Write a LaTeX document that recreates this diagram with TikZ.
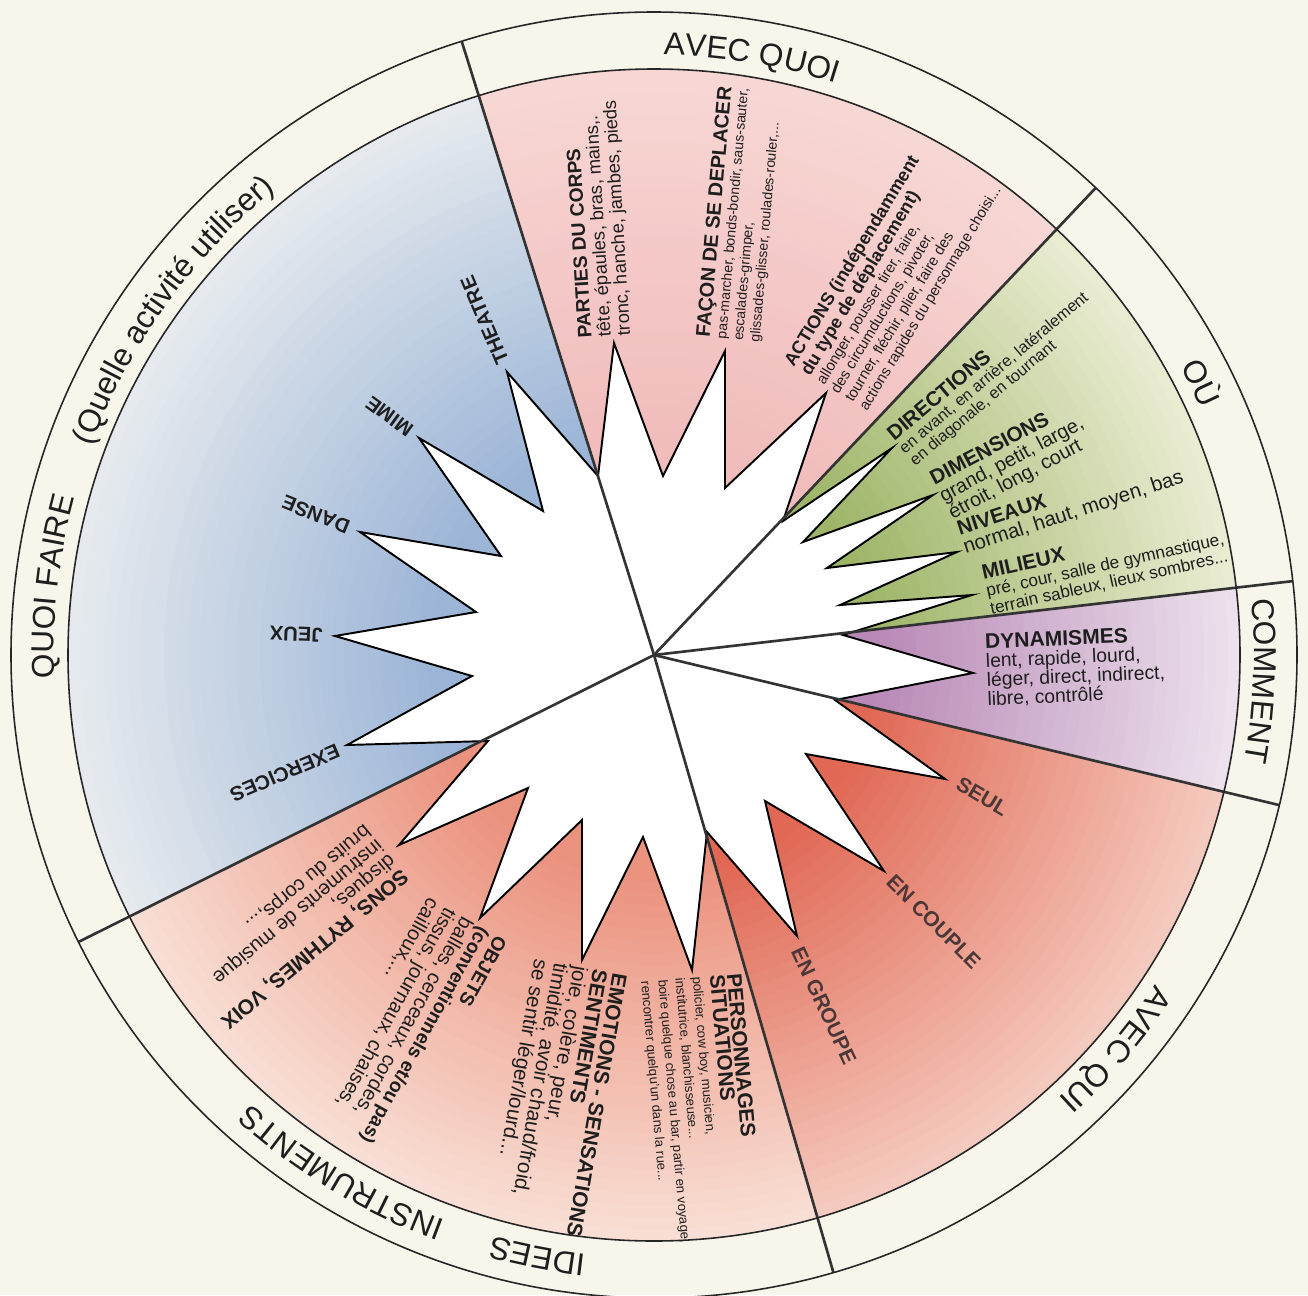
\documentclass[tikz,border=0pt]{standalone}
\usepackage{fontspec}
\setmainfont{Liberation Sans}
\usetikzlibrary{decorations.text}

\definecolor{bgcream}{RGB}{248,245,235}
\definecolor{ink}{RGB}{30,30,30}
\definecolor{tagink}{RGB}{75,55,55}
\definecolor{quoiIn}{RGB}{156,181,215}
\definecolor{quoiOut}{RGB}{230,234,238}
\definecolor{avecIn}{RGB}{241,188,188}
\definecolor{avecOut}{RGB}{247,215,212}
\definecolor{ouIn}{RGB}{158,181,104}
\definecolor{ouOut}{RGB}{234,236,210}
\definecolor{commIn}{RGB}{184,136,182}
\definecolor{commOut}{RGB}{236,225,236}
\definecolor{quiIn}{RGB}{224,104,84}
\definecolor{quiOut}{RGB}{245,202,190}
\definecolor{ideeIn}{RGB}{235,146,126}
\definecolor{ideeOut}{RGB}{248,222,212}

\newcommand{\hd}[2][12]{{\fontsize{#1}{#1}\selectfont\bfseries #2}}
\newcommand{\ringfont}{\fontsize{18}{18}\selectfont}

\begin{document}
\begin{tikzpicture}[
        x=0.02cm, y=0.02cm,
        divider/.style={line width=1.5pt, draw=black!80},
        rim/.style={line width=0.9pt, draw=black!85},
        lbl/.style={font=\fontsize{11.5}{12}\selectfont\bfseries, text=ink, anchor=west, inner sep=0pt},
        tag/.style={font=\fontsize{12}{12}\selectfont\bfseries, text=tagink, anchor=west, inner sep=0pt},
        blk/.style={text=ink, anchor=west, align=left, inner sep=0pt},
        ringtext/.style={decorate, decoration={text along path, text align=center, text color=ink}}
        ]
    % Page and background
    \useasboundingbox (0,0) rectangle (1308,-1295);
    \fill[bgcream] (0,0) rectangle (1308,-1295);

    % Centre and ends of the dividing rays
    \coordinate (C) at (654,-655);
    \coordinate (dQuoi) at ([shift={(107.4:643)}]C);
    \coordinate (dAvec) at ([shift={(46.6:643)}]C);
    \coordinate (dOu) at ([shift={(6.6:643)}]C);
    \coordinate (dComm) at ([shift={(-13.5:643)}]C);
    \coordinate (dQui) at ([shift={(-73.8:643)}]C);
    \coordinate (dIdee) at ([shift={(206.5:643)}]C);

    % Coloured sectors, fading outwards
    \foreach \a/\m/\b/\cin/\cout in {107.4/157/206.5/quoiIn/quoiOut, 46.6/77/107.4/avecIn/avecOut,
            6.6/26.6/46.6/ouIn/ouOut, -13.5/-3.5/6.6/commIn/commOut,
            -73.8/-43.6/-13.5/quiIn/quiOut, 206.5/246.3/286.2/ideeIn/ideeOut}{
        \begin{scope}
            \clip (C) -- ([shift={(\a:1200)}]C) -- ([shift={(\m:1200)}]C) -- ([shift={(\b:1200)}]C) -- cycle;
            \foreach \i in {0,...,30}{
                \pgfmathsetmacro{\p}{\i*100/30}
                \pgfmathsetmacro{\r}{586-\i*12}
                \fill[\cin!\p!\cout] (C) circle (\r);
            }
        \end{scope}
    }

    % Star
    \filldraw[fill=white, draw=black, line width=1.1pt]
        (598,-476) -- (507,-372) -- (543,-511) -- (419,-438) -- (501,-556) -- (360,-532)
        -- (476,-612) -- (335,-636) -- (472,-676) -- (347,-745) -- (488,-741) -- (399,-845)
        -- (528,-788) -- (480,-918) -- (582,-820) -- (582,-960) -- (643,-837) -- (692,-970)
        -- (707,-832) -- (797,-936) -- (765,-801) -- (884,-871) -- (806,-754) -- (945,-779)
        -- (835,-700) -- (973,-673) -- (843,-635) -- (972,-595) -- (840,-605) -- (957,-552)
        -- (827,-568) -- (933,-495) -- (803,-542) -- (892,-448) -- (783,-521) -- (826,-393)
        -- (725,-488) -- (725,-351) -- (663,-476) -- (614,-343) -- cycle;

    % Dividing rays
    \draw[divider] (C) -- (dQuoi);
    \draw[divider] (C) -- (dAvec);
    \draw[divider] (C) -- (dOu);
    \draw[divider] (C) -- (dComm);
    \draw[divider] (C) -- (dQui);
    \draw[divider] (C) -- (dIdee);

    % Rings
    \draw[rim] (C) circle (586);
    \draw[rim] (C) circle (643);

    % Ring titles
    \path[ringtext, decoration={text={|\ringfont|QUOI FAIRE}}]
        ([shift={(195:600)}]C) arc[start angle=195, end angle=152, radius=600];
    \path[ringtext, decoration={text={|\ringfont|(Quelle activité utiliser)}}]
        ([shift={(167:600)}]C) arc[start angle=167, end angle=121.8, radius=600];
    \path[ringtext, decoration={text={|\ringfont|AVEC QUOI}}]
        ([shift={(102:600)}]C) arc[start angle=102, end angle=59.4, radius=600];
    \path[ringtext, decoration={text={|\ringfont|OÙ}}]
        ([shift={(40:600)}]C) arc[start angle=40, end angle=13, radius=600];
    \path[ringtext, decoration={text={|\ringfont|COMMENT}}]
        ([shift={(20:600)}]C) arc[start angle=20, end angle=-24.9, radius=600];
    \path[ringtext, decoration={text={|\ringfont|AVEC QUI}}]
        ([shift={(-20:600)}]C) arc[start angle=-20, end angle=-61, radius=600];
    \path[ringtext, decoration={text={|\ringfont|IDEES}}]
        ([shift={(270:603)}]C) arc[start angle=270, end angle=248, radius=603];
    \path[ringtext, decoration={text={|\ringfont|INSTRUMENTS}}]
        ([shift={(262:603)}]C) arc[start angle=262, end angle=215.8, radius=603];

    % Quoi faire
    \node[lbl, rotate=113] (theatre) at (503,-364) {THEATRE};
    \node[lbl, rotate=144] (mime) at (411,-432) {MIME};
    \node[lbl, rotate=158] (danse) at (349,-528) {DANSE};
    \node[lbl, rotate=178] (jeux) at (323,-635) {JEUX};
    \node[lbl, rotate=203] (exercices) at (339,-750) {EXERCICES};

    % Avec quoi
    \node[blk, rotate=93.5, font=\fontsize{10.5}{11}\selectfont] (corps) at (606,-337)
        {\hd[11]{PARTIES DU CORPS}\\tête, épaules, bras, mains,.\\tronc, hanche, jambes, pieds};
    \node[blk, rotate=85, font=\fontsize{8}{9.5}\selectfont] (facon) at (729,-340)
        {\hd[11.4]{FAÇON DE SE DEPLACER}\\pas-marcher, bonds-bondir, saus-sauter,\\escalades-grimper,\\glissades-glisser, roulades-rouler,...};
    \node[blk, rotate=58.8, font=\fontsize{8.5}{9.5}\selectfont] (actions) at (826,-387)
        {\hd[10.3]{ACTIONS (indépendamment}\\\hd[10.3]{du type de déplacement)}\\allonger, pousser tirer, faire,\\des circumductions, pivoter,\\tourner, fléchir, plier, faire des\\actions rapides du personnage choisi...};

    % Ou
    \node[blk, rotate=40, font=\fontsize{9.3}{9.3}\selectfont] (directions) at (901,-450)
        {\hd[11.8]{DIRECTIONS}\\en avant, en arrière, latéralement\\en diagonale, en tournant};
    \node[blk, rotate=28, font=\fontsize{11.3}{11}\selectfont] (dimensions) at (941,-498)
        {\hd[11.8]{DIMENSIONS}\\grand, petit, large,\\étroit, long, court};
    \node[blk, rotate=18, font=\fontsize{11.6}{11}\selectfont] (niveaux) at (961,-540)
        {\hd[11.8]{NIVEAUX}\\normal, haut, moyen, bas};
    \node[blk, rotate=12.5, font=\fontsize{9.8}{10.3}\selectfont] (milieux) at (986,-591)
        {\hd[11.8]{MILIEUX}\\pré, cour, salle de gymnastique,\\terrain sableux, lieux sombres...};

    % Comment
    \node[blk, rotate=2.5, font=\fontsize{11}{10.8}\selectfont] (dynamismes) at (986,-671)
        {\hd{DYNAMISMES}\\lent, rapide, lourd,\\léger, direct, indirect,\\libre, contrôlé};

    % Avec qui
    \node[tag, rotate=-31] (seul) at (958,-782) {SEUL};
    \node[tag, rotate=-45] (couple) at (890,-878) {EN COUPLE};
    \node[tag, rotate=-65] (groupe) at (797,-948) {EN GROUPE};

    % Idees, instruments
    \node[blk, rotate=-85, font=\fontsize{7.5}{9.8}\selectfont] (personnages) at (690,-977)
        {\hd{PERSONNAGES}\\\hd{SITUATIONS}\\policier, cow boy, musicien,\\institutrice, blanchisseuse...\\boire quelque chose au bar, partir en voyage,\\rencontrer quelqu'un dans la rue...};
    \node[blk, rotate=-100, font=\fontsize{11.8}{11.3}\selectfont] (emotions) at (579,-966)
        {\hd{EMOTIONS - SENSATIONS}\\\hd{SENTIMENTS}\\joie, colère, peur,\\timidité, avoir chaud/froid,\\se sentir léger/lourd...};
    \node[blk, rotate=-119, font=\fontsize{11.5}{11}\selectfont] (objets) at (467,-918)
        {\hd[11]{OBJETS}\\\hd[11]{(conventionnels et/ou pas)}\\balles, cerceaux, cordes,\\tissus, journaux, chaises,\\cailloux,...};
    \node[blk, rotate=219.8, font=\fontsize{11.5}{11}\selectfont] (sons) at (386,-850)
        {\hd{SONS, RYTHMES, VOIX}\\disques,\\instruments de musique\\bruits du corps,...};

\end{tikzpicture}
\end{document}
